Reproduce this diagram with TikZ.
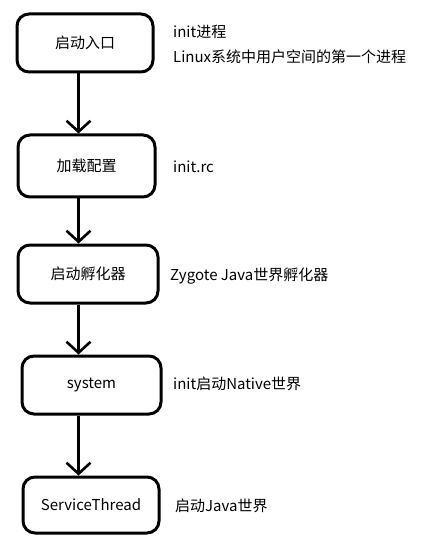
\documentclass[tikz,border=0pt]{standalone}
\usepackage{fontspec}
\setmainfont{Noto Sans CJK SC}
\usepackage{tikz}
\usetikzlibrary{calc, arrows.meta}

\tikzset{
	box/.style = {draw = black, line width = 3pt, rectangle, rounded corners = 12pt, inner sep = 0pt},
	arr/.style = {line width = 3pt, -{Straight Barb[length = 11pt, width = 24pt, line width = 2.6pt]}},
	side/.style = {anchor = west, inner sep = 0pt}
}

\begin{document}
\begin{tikzpicture}[x = 1pt, y = -1pt, font = \fontsize{15}{18}\selectfont]
			\useasboundingbox (0,0) rectangle (424,545);
			
			\node (A) [box, minimum width = 136pt, minimum height = 58pt] at (85,43){启动入口};
			\node (B) [box, minimum width = 137pt, minimum height = 62pt] at (86.5,166){加载配置};
			\node (C) [box, minimum width = 140pt, minimum height = 58pt] at (88,274){启动孵化器};
			\node (D) [box, minimum width = 139pt, minimum height = 58pt] at (91.5,385){system};
			\node (E) [box, minimum width = 136pt, minimum height = 56pt] at (91,505){ServiceThread};
			
			\coordinate (ax) at (78.5,0);
			\draw[arr] (A.south -| ax)--(B.north -| ax);
			\draw[arr] (B.south -| ax)--(C.north -| ax);
			\draw[arr] (C.south -| ax)--(D.north -| ax);
			\draw[arr] (D.south -| ax)--(E.north -| ax);
			
			\node (a1) [side] at (173,32){init进程};
			\node (a2) [side] at (173,57){Linux系统中用户空间的第一个进程};
			\node (b1) [side] at (173,167){init.rc};
			\node (c1) [side] at (170,276){Zygote Java世界孵化器};
			\node (d1) [side] at (173,384){init启动Native世界};
			\node (e1) [side] at (175,506){启动Java世界};
		\end{tikzpicture}
\end{document}
